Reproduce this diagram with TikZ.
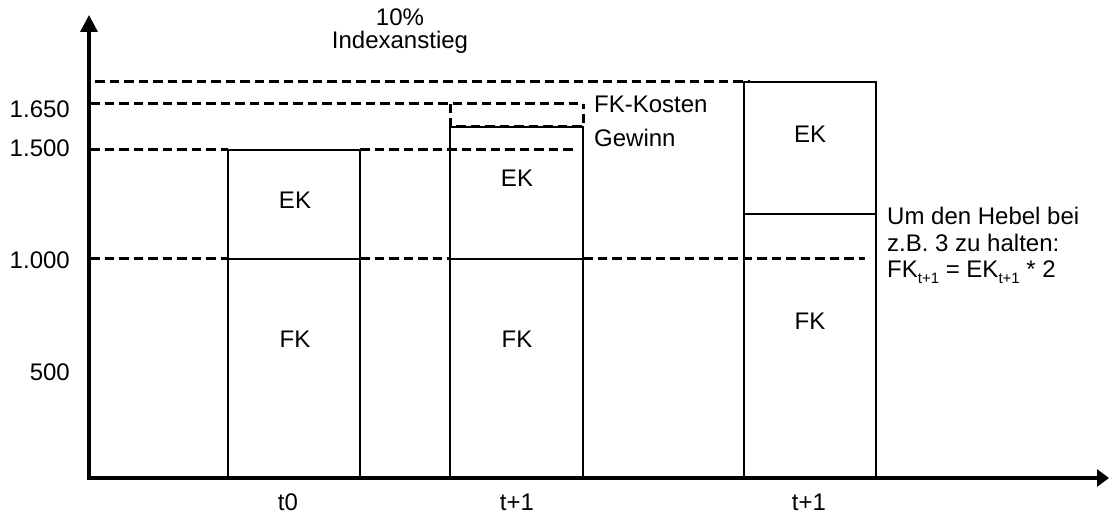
\documentclass[tikz,border=0pt]{standalone}
\usepackage{fontspec}
\setmainfont{Liberation Sans}
\usetikzlibrary{arrows.meta}
\newcommand{\subtx}[1]{\raisebox{-0.22em}{\fontsize{15}{15}\selectfont #1}}
\tikzset{
  axisline/.style={line width=3.4pt},
  barline/.style={line width=1.6pt},
  guide/.style={line width=3pt, dash pattern=on 9.5pt off 5pt},
  lbl/.style={font=\fontsize{24}{27}\selectfont, inner sep=0pt, anchor=base},
  lblL/.style={lbl, anchor=base west},
  lblR/.style={lbl, anchor=base east},
}
\begin{document}
\begin{tikzpicture}[x=1pt,y=-1pt]
\useasboundingbox (0,0) rectangle (1109,513);
% guide lines
\draw[guide] (95,82) -- (750,82);
\draw[guide] (90,104) -- (583,104);
\draw[guide] (90,150) -- (228,150);
\draw[guide] (360,150) -- (573,150);
\draw[guide] (90,259) -- (228,259);
\draw[guide] (360,259) -- (450,259);
\draw[guide] (583,259) -- (865,259);
% bars
\draw[barline] (228,478) rectangle (360,150);
\draw[barline] (228,259) -- (360,259);
\draw[barline] (450,478) rectangle (583,127);
\draw[barline] (450,259) -- (583,259);
\draw[guide] (450,104) -- (450,127) -- (583,127) -- (583,104);
\draw[barline] (744,478) rectangle (876,82);
\draw[barline] (744,214) -- (876,214);
% axes
\coordinate (yorig) at (89,479.7);
\coordinate (xorig) at (87.3,478);
\coordinate (ytip) at (89,15);
\coordinate (xtip) at (1109,478);
\draw[axisline, -{Triangle[length=17pt,width=17pt]}] (yorig) -- (ytip);
\draw[axisline, -{Triangle[length=12pt,width=17pt]}] (xorig) -- (xtip);
% top text
\node[lbl] (pct) at (400,26) {10\%};
\node[lbl] (idx) at (400,49) {Indexanstieg};
% y labels
\node[lblR] (y1650) at (70,118) {1.650};
\node[lblR] (y1500) at (70,157) {1.500};
\node[lblR] (y1000) at (70,269) {1.000};
\node[lblR] (y500) at (70,380) {500};
% bar labels
\node[lbl] (ek1) at (295,209) {EK};
\node[lbl] (fk1) at (295,347) {FK};
\node[lbl] (ek2) at (517,187) {EK};
\node[lbl] (fk2) at (517,347) {FK};
\node[lbl] (ek3) at (810,143) {EK};
\node[lbl] (fk3) at (810,330) {FK};
% side labels
\node[lblL] (fkk) at (594,113) {FK-Kosten};
\node[lblL] (gew) at (594,147) {Gewinn};
\node[lblL] (note1) at (887,225) {Um den Hebel bei};
\node[lblL] (note2) at (887,252) {z.B. 3 zu halten:};
\node[lblL] (note3) at (887,278) {FK\subtx{t+1} = EK\subtx{t+1} * 2};
% x labels
\node[lbl] (t0) at (288,510) {t0};
\node[lbl] (t1a) at (517,510) {t+1};
\node[lbl] (t1b) at (809,510) {t+1};
\end{tikzpicture}
\end{document}
